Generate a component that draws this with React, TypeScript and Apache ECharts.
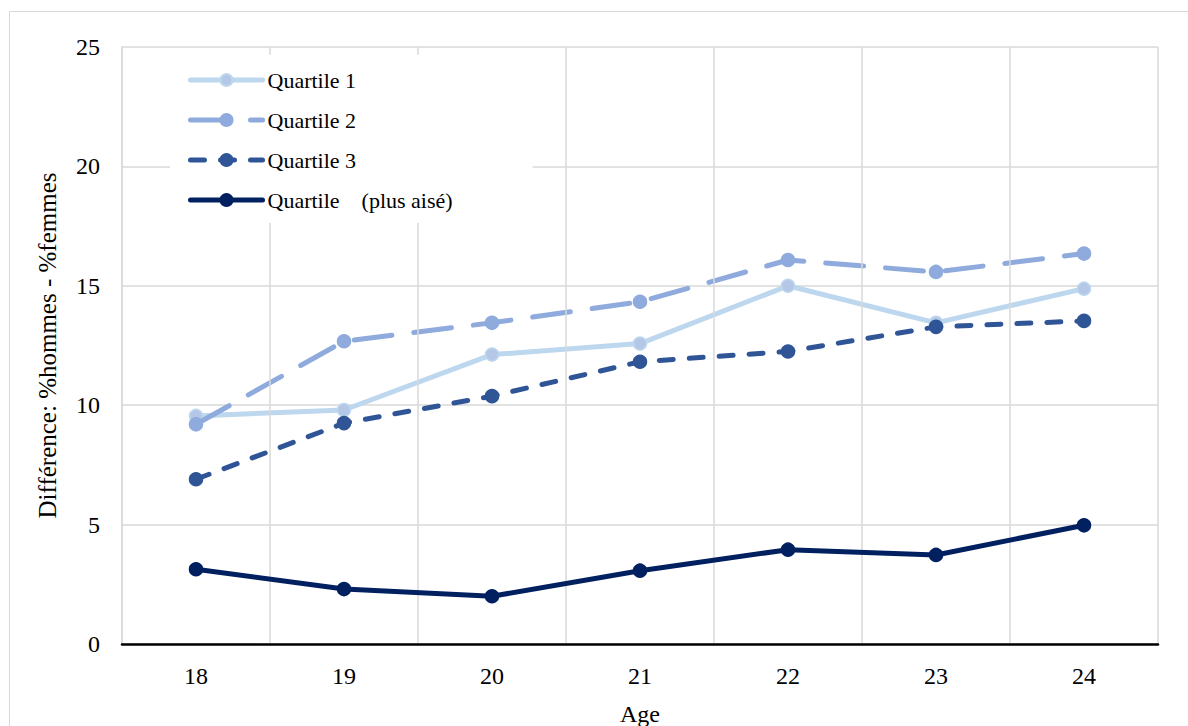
import React, { useEffect, useRef } from "react";
import * as echarts from "echarts";

const ages = ["18", "19", "20", "21", "22", "23", "24"];
const seriesNames = ["Quartile 1", "Quartile 2", "Quartile 3", "Quartile    (plus aisé)"];
const q1 = [9.55, 9.8, 12.12, 12.58, 15.0, 13.45, 14.88];
const q2 = [9.2, 12.68, 13.45, 14.33, 16.08, 15.58, 16.35];
const q3 = [6.9, 9.25, 10.38, 11.82, 12.25, 13.28, 13.53];
const q4 = [3.13, 2.3, 2.0, 3.07, 3.95, 3.73, 4.97];
const yTicks = { min: 0, max: 25, interval: 5 };
const xTitle = "Age";
const yTitle = "Différence: %hommes - %femmes";

const FONT = "'Liberation Serif', 'Times New Roman', serif";

export default function App() {
  const ref = useRef<HTMLDivElement>(null);
  useEffect(() => {
    if (!ref.current) return;
    const chart = echarts.init(ref.current, undefined, { renderer: "svg" });
    const mk = (
      name: string,
      data: number[],
      color: string,
      markerColor: string,
      borderColor: string,
      type: any,
      z: number
    ) => ({
      name,
      type: "line",
      data,
      z,
      symbol: "circle",
      symbolSize: 13,
      itemStyle: { color: markerColor, borderColor, borderWidth: 1.5 },
      lineStyle: { color, width: 5, type, cap: "round", join: "round" },
    });
    chart.setOption({
      animation: false,
      backgroundColor: "#ffffff",
      textStyle: { fontFamily: FONT },
      graphic: [
        {
          type: "rect",
          shape: { x: 9.5, y: 11.5, width: 1200, height: 800 },
          style: { fill: "none", stroke: "#D9D9D9", lineWidth: 1 },
          silent: true,
          z: -10,
        },
      ],
      grid: { left: 122, right: 30, top: 47, bottom: 82, outerBoundsMode: "none", containLabel: false },
      legend: {
        orient: "vertical",
        left: 170,
        top: 55,
        padding: [13, 80, 11, 18],
        backgroundColor: "#ffffff",
        itemWidth: 72,
        itemHeight: 15,
        itemGap: 16,
        data: seriesNames,
        lineStyle: { width: 5, cap: "round" },
        textStyle: { fontFamily: FONT, fontSize: 22, color: "#000", lineHeight: 24 },
        z: 10,
      },
      xAxis: {
        type: "category",
        data: ages,
        boundaryGap: true,
        name: xTitle,
        nameLocation: "middle",
        nameGap: 58,
        nameTextStyle: { fontFamily: FONT, fontSize: 24, color: "#000" },
        axisLine: { show: true, lineStyle: { color: "#000", width: 2.5 } },
        axisTick: { show: false },
        axisLabel: { fontFamily: FONT, fontSize: 24, color: "#000", margin: 20 },
        splitLine: { show: true, lineStyle: { color: "#D9D9D9", width: 1.5 } },
        z: 5,
      },
      yAxis: {
        type: "value",
        min: yTicks.min,
        max: yTicks.max,
        interval: yTicks.interval,
        name: yTitle,
        nameLocation: "middle",
        nameGap: 62,
        nameTextStyle: { fontFamily: FONT, fontSize: 25, color: "#000" },
        axisLine: { show: true, lineStyle: { color: "#D9D9D9", width: 1.5 } },
        axisTick: { show: false },
        axisLabel: { fontFamily: FONT, fontSize: 24, color: "#000", margin: 22 },
        splitLine: { show: true, lineStyle: { color: "#D9D9D9", width: 1.5 } },
      },
      series: [
        mk(seriesNames[0], q1, "#BDD7EE", "#B4C7E7", "#BDD7EE", "solid", 2),
        mk(seriesNames[1], q2, "#8FAADC", "#8FAADC", "#8FAADC", [38, 22], 3),
        mk(seriesNames[2], q3, "#2F5597", "#2F5597", "#2F5597", [14, 16], 4),
        mk(seriesNames[3], q4, "#002060", "#002060", "#002060", "solid", 5),
      ],
    });
    return () => chart.dispose();
  }, []);
  return <div ref={ref} style={{ width: 1188, height: 726, position: "absolute", left: 0, top: 0 }} />;
}
